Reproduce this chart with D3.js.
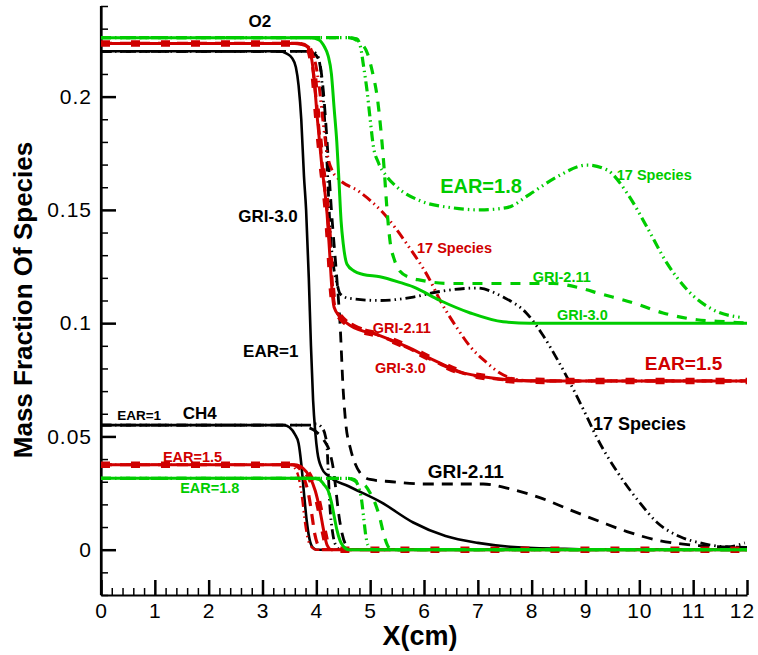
<!DOCTYPE html>
<html>
<head>
<meta charset="utf-8">
<script src="https://cdn.jsdelivr.net/npm/d3@7/dist/d3.min.js"></script>
<style>
body{margin:0;background:#fff}
text{font-family:"Liberation Sans",Arial,sans-serif}
</style>
</head>
<body>
<svg id="canvas" width="758" height="655"></svg>
<script>
// ---- data: [x (cm), mass fraction] ----
// EAR=1 (black)
let o2_ear1_gri30=[[0,0.22],[3.3,0.22],[3.45,0.219],[3.55,0.217],[3.62,0.213],[3.67,0.205],[3.72,0.19],[3.77,0.165],[3.81,0.15],[3.86,0.12],[3.9,0.09],[3.94,0.066],[3.98,0.052],[4.02,0.043],[4.1,0.036],[4.2,0.033],[4.6,0.028],[5.2,0.021],[5.8,0.012],[6.4,0.006],[7.0,0.003],[7.6,0.0013],[8.6,0.0004],[9.5,0],[12,0]];
let o2_ear1_gri211=[[0,0.22],[3.7,0.22],[3.95,0.219],[4.05,0.216],[4.12,0.205],[4.2,0.18],[4.28,0.15],[4.38,0.12],[4.44,0.1],[4.5,0.07],[4.55,0.055],[4.63,0.045],[4.72,0.038],[4.81,0.034],[5.0,0.031],[5.4,0.03],[6.0,0.029],[7.1,0.029],[7.65,0.0265],[8.15,0.023],[8.7,0.0177],[9.27,0.0124],[9.77,0.008],[10.3,0.0044],[10.9,0.0022],[11.4,0.0014],[12,0.001]];
let o2_ear1_sp17=[[0,0.22],[3.9,0.22],[4.0,0.219],[4.08,0.212],[4.14,0.195],[4.2,0.17],[4.26,0.14],[4.32,0.125],[4.38,0.118],[4.44,0.113],[4.6,0.111],[5.18,0.11],[5.8,0.1115],[6.3,0.114],[6.98,0.1155],[7.47,0.1115],[7.9,0.1045],[8.2,0.095],[8.5,0.083],[8.77,0.071],[9.0,0.06],[9.2,0.05],[9.6,0.034],[10.0,0.021],[10.33,0.012],[10.76,0.0057],[11.13,0.003],[11.63,0.0013],[11.96,0.003]];
let ch4_ear1_gri30=[[0,0.055],[3.4,0.055],[3.5,0.054],[3.6,0.051],[3.67,0.047],[3.72,0.038],[3.77,0.025],[3.82,0.013],[3.87,0.005],[3.93,0.001],[4.0,0],[12,0]];
let ch4_ear1_gri211=[[0,0.055],[3.7,0.055],[3.85,0.054],[4.0,0.052],[4.15,0.048],[4.25,0.043],[4.32,0.035],[4.37,0.025],[4.42,0.015],[4.48,0.007],[4.55,0.002],[4.65,0],[12,0]];
let ch4_ear1_sp17=[[0,0.055],[3.9,0.055],[4.0,0.0555],[4.1,0.054],[4.17,0.05],[4.2,0.045],[4.22,0.035],[4.25,0.02],[4.3,0.008],[4.36,0.002],[4.45,0],[12,0]];
// EAR=1.5 (red)
let o2_ear15_gri30=[[0,0.2235],[3.6,0.2235],[3.8,0.2225],[3.88,0.22],[3.95,0.21],[4.02,0.19],[4.1,0.17],[4.2,0.148],[4.25,0.13],[4.29,0.115],[4.33,0.107],[4.44,0.1028],[4.63,0.099],[5.18,0.0945],[5.68,0.0896],[6.17,0.0838],[6.67,0.0785],[7.23,0.0759],[7.84,0.0746],[8.5,0.0745],[12,0.0745]];
let o2_ear15_gri211=[[0,0.2235],[3.65,0.2235],[3.82,0.222],[3.9,0.218],[3.97,0.205],[4.05,0.185],[4.13,0.165],[4.22,0.145],[4.27,0.128],[4.31,0.113],[4.36,0.106],[4.5,0.1015],[4.7,0.099],[5.18,0.0945],[5.68,0.0893],[6.17,0.0835],[6.67,0.0783],[7.23,0.0757],[7.84,0.0746],[8.5,0.0745],[12,0.0745]];
let o2_ear15_sp17=[[0,0.2235],[3.7,0.2235],[3.85,0.222],[3.95,0.218],[4.05,0.205],[4.12,0.19],[4.2,0.175],[4.3,0.167],[4.4,0.164],[4.8,0.158],[5.24,0.1487],[5.68,0.135],[6.11,0.119],[6.3,0.11],[6.61,0.098],[6.86,0.0896],[7.17,0.0825],[7.41,0.078],[7.65,0.0755],[8.0,0.0745],[12,0.0745]];
let ch4_ear15_gri30=[[0,0.0375],[3.6,0.0375],[3.75,0.036],[3.88,0.032],[3.98,0.026],[4.07,0.017],[4.14,0.008],[4.2,0.002],[4.28,0],[12,0]];
let ch4_ear15_gri211=[[0,0.0375],[3.55,0.0375],[3.68,0.036],[3.78,0.031],[3.86,0.024],[3.92,0.015],[3.97,0.007],[4.03,0.002],[4.1,0],[12,0]];
let ch4_ear15_sp17=[[0,0.0375],[3.5,0.0375],[3.6,0.036],[3.68,0.031],[3.74,0.022],[3.79,0.012],[3.85,0.004],[3.92,0.001],[4.0,0],[12,0]];
// EAR=1.8 (green)
let o2_ear18_gri30=[[0,0.226],[3.9,0.226],[4.05,0.225],[4.15,0.222],[4.22,0.218],[4.28,0.21],[4.33,0.195],[4.38,0.18],[4.42,0.163],[4.46,0.145],[4.5,0.135],[4.57,0.126],[4.7,0.123],[4.87,0.1215],[5.18,0.1205],[5.55,0.118],[5.8,0.116],[6.3,0.11],[6.86,0.1045],[7.47,0.1006],[7.97,0.1],[12,0.1]];
let o2_ear18_gri211=[[0,0.226],[4.6,0.226],[4.8,0.224],[4.95,0.219],[5.05,0.21],[5.13,0.2],[5.2,0.185],[5.26,0.168],[5.31,0.151],[5.37,0.136],[5.45,0.128],[5.55,0.123],[5.75,0.12],[5.93,0.119],[6.5,0.1175],[7.5,0.1175],[8.4,0.1175],[8.9,0.1155],[9.27,0.113],[9.88,0.109],[10.44,0.1045],[11.07,0.1015],[11.63,0.1006],[12,0.1]];
let o2_ear18_sp17=[[0,0.226],[4.6,0.226],[4.75,0.2255],[4.82,0.222],[4.88,0.213],[4.94,0.203],[5.0,0.19],[5.06,0.178],[5.15,0.171],[5.3,0.165],[5.5,0.16],[5.93,0.154],[6.5,0.151],[7.04,0.15],[7.54,0.151],[7.97,0.157],[8.47,0.1646],[9.03,0.1698],[9.4,0.1676],[9.77,0.1575],[10.14,0.1425],[10.51,0.1266],[10.89,0.1147],[11.37,0.1059],[11.93,0.1024]];
let ch4_ear18_gri30=[[0,0.0315],[3.9,0.0315],[4.05,0.031],[4.15,0.0285],[4.22,0.026],[4.28,0.021],[4.33,0.015],[4.38,0.009],[4.44,0.004],[4.5,0.0015],[4.6,0],[12,0]];
let ch4_ear18_gri211=[[0,0.0315],[4.6,0.0315],[4.75,0.03],[4.9,0.0285],[5.0,0.025],[5.1,0.02],[5.18,0.014],[5.25,0.007],[5.32,0.002],[5.4,0],[12,0]];
let ch4_ear18_sp17=[[0,0.0315],[4.6,0.0315],[4.7,0.031],[4.78,0.028],[4.84,0.022],[4.88,0.014],[4.92,0.006],[4.96,0.002],[5.05,0],[12,0]];

let xMajor=[0,1,2,3,4,5,6,7,8,9,10,11,12];
let yMajor=[0,0.05,0.1,0.15,0.2];

// label texts and where they sit (data units)
let labelText=["O2","GRI-3.0","EAR=1","EAR=1","CH4","EAR=1.5","EAR=1.8","EAR=1.8","17 Species","17 Species","GRI-2.11","GRI-3.0","GRI-2.11","GRI-3.0","EAR=1.5","17 Species","GRI-2.11"];
let labelX=[2.95,2.55,2.64,0.3,1.52,1.15,1.47,6.3,9.58,5.87,8.02,8.47,5.05,5.09,10.1,9.14,6.07];
let labelY=[0.2307,0.1447,0.0851,0.0574,0.0578,0.0388,0.0251,0.1575,0.1632,0.131,0.1182,0.1015,0.0957,0.0781,0.0794,0.0529,0.0318];
let labelGroup=["k","k","k","k","k","r","g","g","g","r","g","g","r","r","r","k","k"];

let colors={k:"#000000",r:"#d00000",g:"#00cc00"};
let labelSize=[17,17,17,13.5,17,14.5,14.5,20,14.5,14.5,14.5,14.5,14.5,14.5,19,18,19];

let canvas=d3.select("#canvas");
let x=d3.scaleLinear().domain([0,12]).range([101,747]);
let y=d3.scaleLinear().domain([-0.02,0.24]).range([595,6]);

// axes
let minorY=d3.range(-0.02,0.2401,0.01).map(v=>+v.toFixed(2)).filter(v=>yMajor.indexOf(v)<0);
let minorX=d3.range(0,12.01,0.2).map(v=>+v.toFixed(1)).filter(v=>xMajor.indexOf(v)<0);

canvas.append("g").attr("transform","translate(101,0)")
  .call(d3.axisLeft(y).tickValues(minorY).tickSize(-7).tickSizeOuter(0).tickFormat(""))
  .call(g=>g.select(".domain").remove())
  .selectAll("line").attr("stroke-width",1.5);
canvas.append("g").attr("transform","translate(0,595)")
  .call(d3.axisBottom(x).tickValues(minorX).tickSize(-7).tickSizeOuter(0).tickFormat(""))
  .call(g=>g.select(".domain").remove())
  .selectAll("line").attr("stroke-width",1.5);

let yAxis=canvas.append("g").attr("transform","translate(101,0)")
  .call(d3.axisLeft(y).tickValues(yMajor).tickSize(-15).tickSizeOuter(0).tickPadding(9)
    .tickFormat(d=>String(+d.toFixed(2))));
let xAxis=canvas.append("g").attr("transform","translate(0,595)")
  .call(d3.axisBottom(x).tickValues(xMajor).tickSize(-15).tickSizeOuter(0).tickPadding(8));
[yAxis,xAxis].forEach(a=>{
  a.select(".domain").attr("stroke-width",2.2);
  a.selectAll(".tick line").attr("stroke-width",2.5);
  a.selectAll("text").attr("font-size",21).attr("fill","#000")
    .attr("font-family","Liberation Sans, Arial, sans-serif").style("letter-spacing","1px");
});
xAxis.selectAll(".tick text").filter(d=>d===12).attr("dx",-5);
// extend the left axis to the x axis
canvas.append("line").attr("x1",101).attr("x2",101).attr("y1",y(0.24)).attr("y2",y(-0.02))
  .attr("stroke","#000").attr("stroke-width",2.2);

// curves
let line=d3.line().x(d=>x(d[0])).y(d=>y(d[1])).curve(d3.curveMonotoneX);
let dashed="11,8", dashdot="10,4,1.5,4,1.5,4";
let series=[
  {d:o2_ear1_gri30,c:"k",w:2.6,dash:null},
  {d:o2_ear1_gri211,c:"k",w:2.8,dash:dashed},
  {d:o2_ear1_sp17,c:"k",w:2.8,dash:dashdot},
  {d:ch4_ear1_gri30,c:"k",w:2.6,dash:null},
  {d:ch4_ear1_gri211,c:"k",w:2.8,dash:dashed},
  {d:ch4_ear1_sp17,c:"k",w:2.8,dash:dashdot},
  {d:o2_ear15_sp17,c:"r",w:3,dash:dashdot},
  {d:ch4_ear15_sp17,c:"r",w:2.4,dash:dashdot},
  {d:o2_ear15_gri211,c:"r",w:3.2,dash:dashed},
  {d:ch4_ear15_gri211,c:"r",w:3.2,dash:dashed},
  {d:o2_ear15_gri30,c:"r",w:3,dash:null},
  {d:o2_ear15_gri30,c:"r",w:6.5,dash:"9,21"},
  {d:ch4_ear15_gri30,c:"r",w:3,dash:null},
  {d:ch4_ear15_gri30,c:"r",w:6.5,dash:"9,21"},
  {d:o2_ear18_sp17,c:"g",w:3.2,dash:dashdot},
  {d:ch4_ear18_sp17,c:"g",w:3.2,dash:dashdot},
  {d:o2_ear18_gri211,c:"g",w:3.2,dash:"10,9"},
  {d:ch4_ear18_gri211,c:"g",w:3.2,dash:"10,9"},
  {d:o2_ear18_gri30,c:"g",w:3,dash:null},
  {d:ch4_ear18_gri30,c:"g",w:3,dash:null}
];
canvas.append("g").selectAll("path").data(series).enter().append("path")
  .attr("d",s=>line(s.d))
  .attr("fill","none")
  .attr("stroke",s=>colors[s.c])
  .attr("stroke-width",s=>s.w)
  .attr("stroke-dasharray",s=>s.dash)
  .attr("stroke-linejoin","round");

// in-plot labels
canvas.append("g").selectAll("text").data(labelText).enter().append("text")
  .attr("x",(t,i)=>x(labelX[i]))
  .attr("y",(t,i)=>y(labelY[i]))
  .attr("text-anchor",(t,i)=>i===0?"middle":"start")
  .attr("font-size",(t,i)=>labelSize[i])
  .attr("font-weight","bold")
  .attr("fill",(t,i)=>colors[labelGroup[i]])
  .text(t=>t);

// axis titles
canvas.append("text").attr("x",420).attr("y",645).attr("text-anchor","middle")
  .attr("font-size",27).attr("font-weight","bold").text("X(cm)");
canvas.append("text").attr("transform","translate(32,300) rotate(-90)").attr("text-anchor","middle")
  .attr("font-size",26).attr("font-weight","bold").text("Mass Fraction Of Species");
</script>
</body>
</html>
